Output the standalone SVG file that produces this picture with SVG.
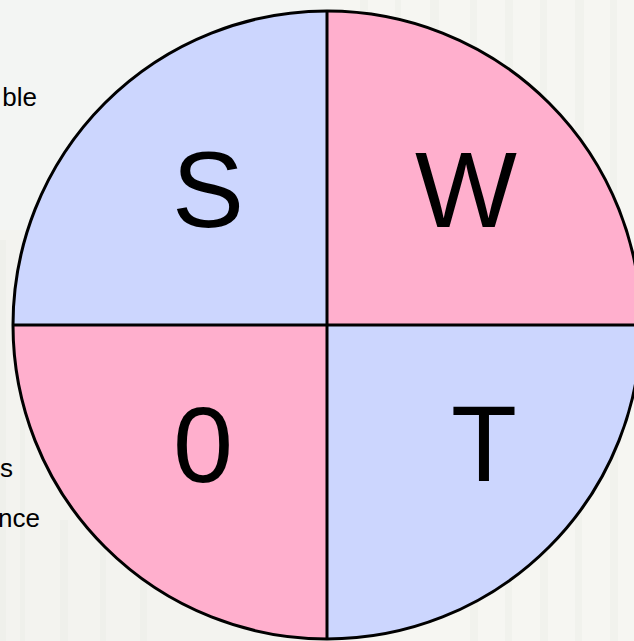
<svg xmlns="http://www.w3.org/2000/svg" width="634" height="641" viewBox="0 0 634 641">
  <style>
    .big { font-family: "Liberation Sans", Arial, sans-serif; font-size: 108px; fill: #000; text-anchor: middle; }
    .side { font-family: "Liberation Sans", Arial, sans-serif; font-size: 26px; fill: #000; text-anchor: end; }
    .blue { fill: #CCD6FE; }
    .pink { fill: #FFAFCD; }
    .stripe { fill: #E9EAE4; opacity: 0.35; }
  </style>
  <g id="background">
    <rect x="0" y="0" width="634" height="641" fill="#F3F5F3"/>
    <rect x="0" y="230" width="330" height="411" fill="#F2F2EE" opacity="0.8"/>
    <rect class="stripe" x="0" y="240" width="6" height="401"/>
    <rect class="stripe" x="20" y="300" width="5" height="341"/>
    <rect class="stripe" x="60" y="520" width="8" height="121"/>
    <rect class="stripe" x="100" y="540" width="6" height="101"/>
    <rect class="stripe" x="140" y="560" width="7" height="81"/>
    <rect x="330" y="0" width="304" height="641" fill="#F6F6F2"/>
    <rect class="stripe" x="360" y="0" width="8" height="40"/>
    <rect class="stripe" x="395" y="0" width="6" height="60"/>
    <rect class="stripe" x="430" y="0" width="9" height="80"/>
    <rect class="stripe" x="470" y="0" width="7" height="110"/>
    <rect class="stripe" x="505" y="0" width="8" height="150"/>
    <rect class="stripe" x="540" y="0" width="7" height="200"/>
    <rect class="stripe" x="575" y="0" width="9" height="260"/>
    <rect class="stripe" x="610" y="0" width="7" height="300"/>
    <rect class="stripe" x="540" y="480" width="8" height="161"/>
    <rect class="stripe" x="575" y="420" width="7" height="221"/>
    <rect class="stripe" x="610" y="380" width="8" height="261"/>
    <rect class="stripe" x="505" y="530" width="7" height="111"/>
    <rect class="stripe" x="470" y="570" width="8" height="71"/>
  </g>
  <g id="side-text">
    <text class="side" x="37" y="106">ble</text>
    <text class="side" x="13" y="477">s</text>
    <text class="side" x="40" y="527">nce</text>
  </g>
  <g id="node-S">
    <path class="blue" d="M327,325 L13,325 A314,314 0 0 1 327,11 Z"/>
    <text class="big" x="208" y="227">S</text>
  </g>
  <g id="node-W">
    <path class="pink" d="M327,325 L327,11 A314,314 0 0 1 641,325 Z"/>
    <text class="big" x="466" y="227">W</text>
  </g>
  <g id="node-O">
    <path class="pink" d="M327,325 L327,639 A314,314 0 0 1 13,325 Z"/>
    <text class="big" x="203" y="482">0</text>
  </g>
  <g id="node-T">
    <path class="blue" d="M327,325 L641,325 A314,314 0 0 1 327,639 Z"/>
    <text class="big" x="484" y="481">T</text>
  </g>
  <g id="connectors" fill="none" stroke="#000" stroke-width="3">
    <line x1="327" y1="11" x2="327" y2="639"/>
    <line x1="13" y1="325" x2="641" y2="325"/>
    <circle cx="327" cy="325" r="314"/>
  </g>
</svg>
